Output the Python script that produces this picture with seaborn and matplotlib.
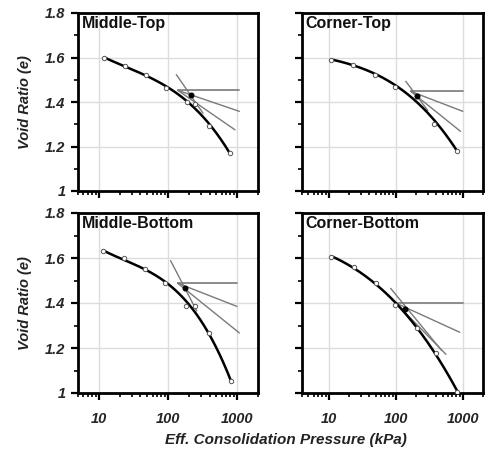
import numpy as np
import pandas as pd
import matplotlib
matplotlib.use("Agg")
import matplotlib.pyplot as plt
from matplotlib.ticker import FixedLocator, LogLocator, NullFormatter, FuncFormatter
import seaborn as sns

sns.set_theme(style="white")
plt.rcParams["font.family"] = ["Liberation Sans", "DejaVu Sans"]

# Panel names (reading order)
panel_names = ["Middle-Top", "Corner-Top", "Middle-Bottom", "Corner-Bottom"]

# Oedometer results: effective consolidation pressure (kPa) and void ratio
mt_p = [12, 24, 48, 94, 186, 245, 390, 790]
mt_e = [1.60, 1.56, 1.52, 1.465, 1.40, 1.39, 1.29, 1.17]
ct_p = [11, 23, 49, 98, 205, 371, 830]
ct_e = [1.591, 1.568, 1.523, 1.468, 1.425, 1.30, 1.182]
mb_p = [11.5, 23, 47, 92, 180, 244, 390, 805]
mb_e = [1.63, 1.60, 1.55, 1.487, 1.388, 1.385, 1.265, 1.054]
cb_p = [11, 24, 50, 98, 205, 400, 830]
cb_e = [1.605, 1.56, 1.489, 1.39, 1.29, 1.18, 1.003]

# Casagrande construction for each panel
# point of maximum curvature (start of horizontal, tangent and bisector)
knee_p = [139, 167, 138, 100]
knee_e = [1.452, 1.448, 1.488, 1.40]
horiz_end_p = [1075, 1000, 990, 1000]
tangent_end_p = [930, 925, 1075, 560]
tangent_end_e = [1.275, 1.268, 1.267, 1.172]
bisector_end_p = [1075, 1000, 990, 900]
bisector_end_e = [1.358, 1.358, 1.385, 1.27]
# virgin compression line extension
vcl_start_p = [132, 141, 109, 84]
vcl_start_e = [1.523, 1.493, 1.588, 1.465]
vcl_end_p = [320, 300, 260, 480]
vcl_end_e = [1.35, 1.362, 1.365, 1.19]
# estimated preconsolidation pressure
pc_p = [213, 205, 174, 137]
pc_e = [1.43, 1.428, 1.468, 1.375]

pressures = [mt_p, ct_p, mb_p, cb_p]
void_ratios = [mt_e, ct_e, mb_e, cb_e]

y_ticks = [1.0, 1.2, 1.4, 1.6, 1.8]
x_ticks = [10, 100, 1000]
x_limits = [(5, 2000), (4, 2000), (5, 2000), (4, 2000)]

fig = plt.figure(figsize=(4.88, 4.5), dpi=100)
W, H = 488, 450
boxes = [(78, 13, 180, 178), (302, 13, 181, 178),
         (78, 213, 180, 180), (302, 213, 181, 180)]

tick_font = dict(family=["Liberation Sans", "DejaVu Sans"], weight="bold",
                 style="italic", size=10.5)
guide_color = "#7a7a7a"

for i, name in enumerate(panel_names):
    x0, y0, w, h = boxes[i]
    ax = fig.add_axes([x0 / W, 1 - (y0 + h) / H, w / W, h / H])
    ax.set_xscale("log")
    ax.set_xlim(*x_limits[i])
    ax.set_ylim(1.0, 1.8)

    p = np.array(pressures[i], dtype=float)
    e = np.array(void_ratios[i], dtype=float)

    # fitted compression curve (cubic in log-pressure)
    coef = np.polyfit(np.log10(p), e, 3)
    lp = np.linspace(np.log10(p[0]), np.log10(p[-1]), 200)
    curve = pd.DataFrame({"p": 10 ** lp, "e": np.polyval(coef, lp)})

    # construction lines
    gl = dict(color=guide_color, lw=1.0, zorder=3)
    ax.plot([knee_p[i], horiz_end_p[i]], [knee_e[i], knee_e[i]],
            color="#8c8c8c", lw=1.4, zorder=3)
    ax.plot([knee_p[i], tangent_end_p[i]], [knee_e[i], tangent_end_e[i]], **gl)
    ax.plot([knee_p[i], bisector_end_p[i]], [knee_e[i], bisector_end_e[i]], **gl)
    ax.plot([vcl_start_p[i], vcl_end_p[i]], [vcl_start_e[i], vcl_end_e[i]], **gl)

    sns.lineplot(data=curve, x="p", y="e", ax=ax, color="black", lw=1.8,
                 sort=False, estimator=None, zorder=4)
    sns.scatterplot(x=p, y=e, ax=ax, marker="o", s=10, facecolor="white",
                    edgecolor="#555555", linewidth=0.7, zorder=5)
    ax.plot([pc_p[i]], [pc_e[i]], "o", color="black", ms=3.3, zorder=6)

    ax.set_xlabel("")
    ax.set_ylabel("")

    # axes styling
    for s in ax.spines.values():
        s.set_linewidth(2.0)
        s.set_color("black")
    ax.grid(True, which="major", color="#dcdcdc", lw=1.0)
    ax.set_axisbelow(True)
    ax.xaxis.set_major_locator(FixedLocator(x_ticks))
    ax.xaxis.set_minor_locator(LogLocator(base=10, subs=np.arange(2, 10)))
    ax.xaxis.set_minor_formatter(NullFormatter())
    ax.yaxis.set_major_locator(FixedLocator(y_ticks))
    ax.yaxis.set_minor_locator(FixedLocator([1.1, 1.3, 1.5, 1.7]))
    ax.tick_params(which="major", direction="out", length=5, width=1.6,
                   color="black", bottom=True, left=True)
    ax.tick_params(which="minor", direction="out", length=3, width=1.2,
                   color="black", bottom=True, left=True)
    ax.tick_params(axis="x", which="major", pad=9)
    ax.tick_params(axis="y", which="major", pad=4)

    ax.yaxis.set_major_formatter(FuncFormatter(lambda v, _: f"{v:g}"))
    ax.xaxis.set_major_formatter(FuncFormatter(lambda v, _: f"{v:g}"))
    if i < 2:
        ax.tick_params(axis="x", labelbottom=False)
    if i % 2 == 1:
        ax.tick_params(axis="y", labelleft=False)
    for lab in ax.get_xticklabels() + ax.get_yticklabels():
        lab.set_fontproperties(matplotlib.font_manager.FontProperties(**tick_font))

    if i % 2 == 0:
        ax.set_ylabel("Void Ratio (e)", fontsize=10.5, style="italic",
                      weight="bold", color="#222222")
        ax.yaxis.set_label_coords(-0.255, 0.5)

    ax.text(0.02, 0.985, name, transform=ax.transAxes, ha="left", va="top",
            fontsize=11.5, weight="bold", color="#111111", zorder=7)

fig.text(286 / W, 1 - 440 / H, "Eff. Consolidation Pressure (kPa)",
         ha="center", va="center", fontsize=11, style="italic", weight="bold",
         color="#222222")

fig.savefig("out.png", dpi=100)
